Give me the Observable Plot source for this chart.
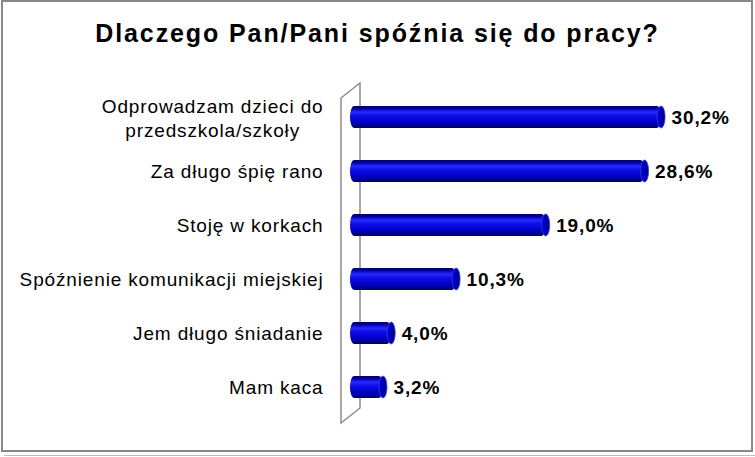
<!DOCTYPE html>
<html>
<head>
<meta charset="utf-8">
<script src="https://cdn.jsdelivr.net/npm/d3@7"></script>
<script src="https://cdn.jsdelivr.net/npm/@observablehq/plot@0.6"></script>
<style>
  body { margin: 0; background: #fff; }
  #frame { position: absolute; left: 1px; top: 0; width: 752px; height: 452px; border: 2px solid #888; box-sizing: border-box; }
  #shadow { position: absolute; left: 4px; top: 455px; width: 751px; border-top: 1px solid #bbb; }
  #title { position: absolute; left: 0; top: 21px; width: 755px; text-align: center; font: bold 25px "Liberation Sans", Arial, sans-serif; letter-spacing: 1.9px; line-height: 24px; color: #000; }
  #chart { position: absolute; left: 0; top: 55px; }
</style>
</head>
<body>
<div id="frame"></div>
<div id="shadow"></div>
<div id="title">Dlaczego Pan/Pani spóźnia się do pracy?</div>
<div id="chart"></div>
<script>
const categories = [
  "Odprowadzam dzieci do\nprzedszkola/szkoły",
  "Za długo śpię rano",
  "Stoję w korkach",
  "Spóźnienie komunikacji miejskiej",
  "Jem długo śniadanie",
  "Mam kaca"
];
const values = [30.2, 28.6, 19.0, 10.3, 4.0, 3.2];

const data = categories.map((c, i) => ({category: c, value: values[i]}));
const fmt = v => v.toFixed(1).replace(".", ",") + "%";

const labelSize = 19;
const spacing = 0.85;
const ctx = document.createElement("canvas").getContext("2d");
ctx.font = `${labelSize}px 'Liberation Sans', Arial, sans-serif`;
const textWidth = s => ctx.measureText(s).width + spacing * s.length;
const wrapped = data.filter(d => d.category.includes("\n"));
const single = data.filter(d => !d.category.includes("\n"));
const wrapWidth = Math.max(...wrapped.flatMap(d => d.category.split("\n").map(textWidth)));
const labelGap = 27;

const plot = Plot.plot({
  width: 755,
  height: 402,
  marginLeft: 350,
  marginRight: 44.5,
  marginTop: 35,
  marginBottom: 43,
  x: {domain: [0, 35], axis: null},
  y: {domain: categories, padding: 0, axis: null},
  style: {fontFamily: "'Liberation Sans', Arial, sans-serif", overflow: "visible", letterSpacing: `${spacing}px`},
  marks: [
    Plot.barX(data, {x: "value", y: "category", fill: "url(#cylBody)", rx: 4, ry: 11, insetTop: 16, insetBottom: 16}),
    Plot.barX(data, {x1: "value", x2: "value", y: "category", fill: "url(#cylCap)", stroke: "#3b3bd6", strokeWidth: 0.8, rx: 4, ry: 11, insetTop: 16, insetBottom: 16, insetLeft: -4, insetRight: -4}),
    Plot.text(single, {y: "category", text: "category", frameAnchor: "left", textAnchor: "end", dx: -labelGap, fontSize: labelSize, fill: "#000"}),
    Plot.text(wrapped, {y: "category", text: "category", frameAnchor: "left", textAnchor: "middle", dx: -labelGap - wrapWidth / 2, fontSize: labelSize, lineHeight: 1.27, fill: "#000"}),
    Plot.text(data, {x: "value", y: "category", text: d => fmt(d.value), textAnchor: "start", dx: 10, fontSize: 19, fontWeight: "bold", fill: "#000"})
  ]
});

// gradients
const svg = d3.select(plot);
const defs = svg.insert("defs", ":first-child");
const g1 = defs.append("linearGradient").attr("id", "cylBody").attr("x1", 0).attr("y1", 0).attr("x2", 0).attr("y2", 1);
[["0%", "#00005a"], ["12%", "#0000a8"], ["28%", "#2a2aff"], ["45%", "#0c0ce8"], ["75%", "#0000c4"], ["100%", "#000062"]]
  .forEach(([o, c]) => g1.append("stop").attr("offset", o).attr("stop-color", c));
const g2 = defs.append("linearGradient").attr("id", "cylCap").attr("x1", 0).attr("y1", 0).attr("x2", 1).attr("y2", 0);
[["0%", "#0000d8"], ["60%", "#0000b0"], ["100%", "#00007a"]]
  .forEach(([o, c]) => g2.append("stop").attr("offset", o).attr("stop-color", c));

// 3D wall (axis plane) derived from scales
const xs = plot.scale("x"), ys = plot.scale("y");
const x0 = xs.apply(0);
const yTop = ys.range[0], yBot = ys.range[1];
const fx = x0 - 9, bx = fx + 19, depth = 15;
const ft = yTop + 8, fb = yBot + 9;
svg.insert("path", "g")
  .attr("d", `M${fx},${ft}L${bx},${ft - depth}L${bx},${fb - depth}L${fx},${fb}Z`)
  .attr("fill", "#fff")
  .attr("stroke", "#8c8c8c")
  .attr("stroke-width", 1.5);

document.getElementById("chart").appendChild(plot);
</script>
</body>
</html>
